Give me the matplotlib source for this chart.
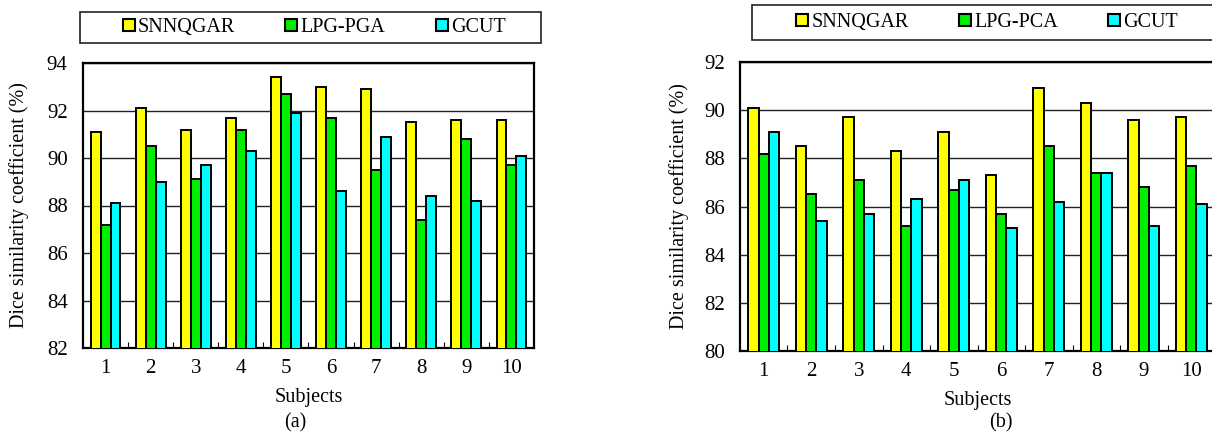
import numpy as np
import matplotlib
matplotlib.use("Agg")
import matplotlib.pyplot as plt
from matplotlib.patches import Rectangle, Patch

plt.rcParams['font.family'] = ['Liberation Serif', 'DejaVu Serif']

subjects = ["1", "2", "3", "4", "5", "6", "7", "8", "9", "10"]

# panel (a)
snn_a = [91.1, 92.1, 91.2, 91.7, 93.4, 93.0, 92.9, 91.5, 91.6, 91.6]
lpg_a = [87.2, 90.5, 89.1, 91.2, 92.7, 91.7, 89.5, 87.4, 90.8, 89.7]
gcut_a = [88.1, 89.0, 89.7, 90.3, 91.9, 88.6, 90.9, 88.4, 88.2, 90.1]

# panel (b)
snn_b = [90.1, 88.5, 89.7, 88.3, 89.1, 87.3, 90.9, 90.3, 89.6, 89.7]
lpg_b = [88.2, 86.5, 87.1, 85.2, 86.7, 85.7, 88.5, 87.4, 86.8, 87.7]
gcut_b = [89.1, 85.4, 85.7, 86.3, 87.1, 85.1, 86.2, 87.4, 85.2, 86.1]

colors = ["#FFFF00", "#00EE00", "#00FFFF"]
W, H = 1212, 433
fs = 14.5


def fig_rect(x0, y0, x1, y1):
    # pixel box (top-left origin) -> figure fraction
    return [x0 / W, 1 - y1 / H, (x1 - x0) / W, (y1 - y0) / H]


def draw_panel(fig, rect, series, ylim, tag, tag_x, ylab_x, xlab_y, legend_box, legend_cx, names):
    x0, y0, x1, y1 = rect
    ax = fig.add_axes(fig_rect(*rect))
    x = np.arange(1, len(subjects) + 1)
    bw = 0.22
    for k, vals in enumerate(series):
        ax.bar(x + (k - 1) * bw, vals, bw, color=colors[k], edgecolor="black",
               linewidth=1.4, zorder=3)
    ax.set_xlim(0.5, len(subjects) + 0.5)
    ax.set_ylim(*ylim)
    ax.set_yticks(np.arange(ylim[0], ylim[1] + 1, 2))
    ax.set_xticks(x)
    ax.set_xticklabels(subjects)
    ax.set_xticks(np.arange(1.5, len(subjects)), minor=True)
    ax.tick_params(axis="x", which="major", length=0, pad=8, labelsize=15)
    ax.tick_params(axis="x", which="minor", length=4, direction="in", width=0.8)
    ax.tick_params(axis="y", length=0, pad=11, labelsize=15)
    ax.yaxis.grid(True, color="#222222", linewidth=1.0, zorder=0)
    ax.set_axisbelow(True)
    for s in ax.spines.values():
        s.set_linewidth(1.6)
    ax.set_ylabel("Dice similarity coefficient (%)", fontsize=fs)
    ax.yaxis.set_label_coords((ylab_x - x0) / (x1 - x0), 0.5)
    ax.set_xlabel("Subjects", fontsize=fs)
    ax.xaxis.set_label_coords(0.5, (y1 - xlab_y) / (y1 - y0))
    fig.text(tag_x / W, 1 - 423 / H, tag, fontsize=fs, ha="center", va="center")

    bx0, by0, bx1, by1 = legend_box
    fig.patches.append(Rectangle((bx0 / W, 1 - by1 / H), (bx1 - bx0) / W,
                                 (by1 - by0) / H, transform=fig.transFigure,
                                 facecolor="white", edgecolor="#222222",
                                 linewidth=1.2))
    handles = [Patch(facecolor=c, edgecolor="black", linewidth=1.5) for c in colors]
    cy = 1 - (by0 + by1) / 2 / H
    fig.legend(handles, names, loc="center", bbox_to_anchor=(legend_cx / W, cy), ncol=3,
               frameon=False, fontsize=fs, handlelength=0.6, handleheight=0.6,
               handletextpad=0.15, columnspacing=2.5, borderpad=0)
    return ax


fig = plt.figure(figsize=(W / 100, H / 100), dpi=100)

draw_panel(fig, (83, 63, 534, 348), [snn_a, lpg_a, gcut_a], (82, 94), "(a)", 295, 29, 388,
           (80, 12, 541, 43), 314, ["SNNQGAR", "LPG-PGA", "GCUT"])
draw_panel(fig, (740, 62, 1215, 351), [snn_b, lpg_b, gcut_b], (80, 92), "(b)", 1001, 689, 391,
           (752, 5, 1230, 40), 987, ["SNNQGAR", "LPG-PCA", "GCUT"])

fig.savefig("out.png", dpi=100)
